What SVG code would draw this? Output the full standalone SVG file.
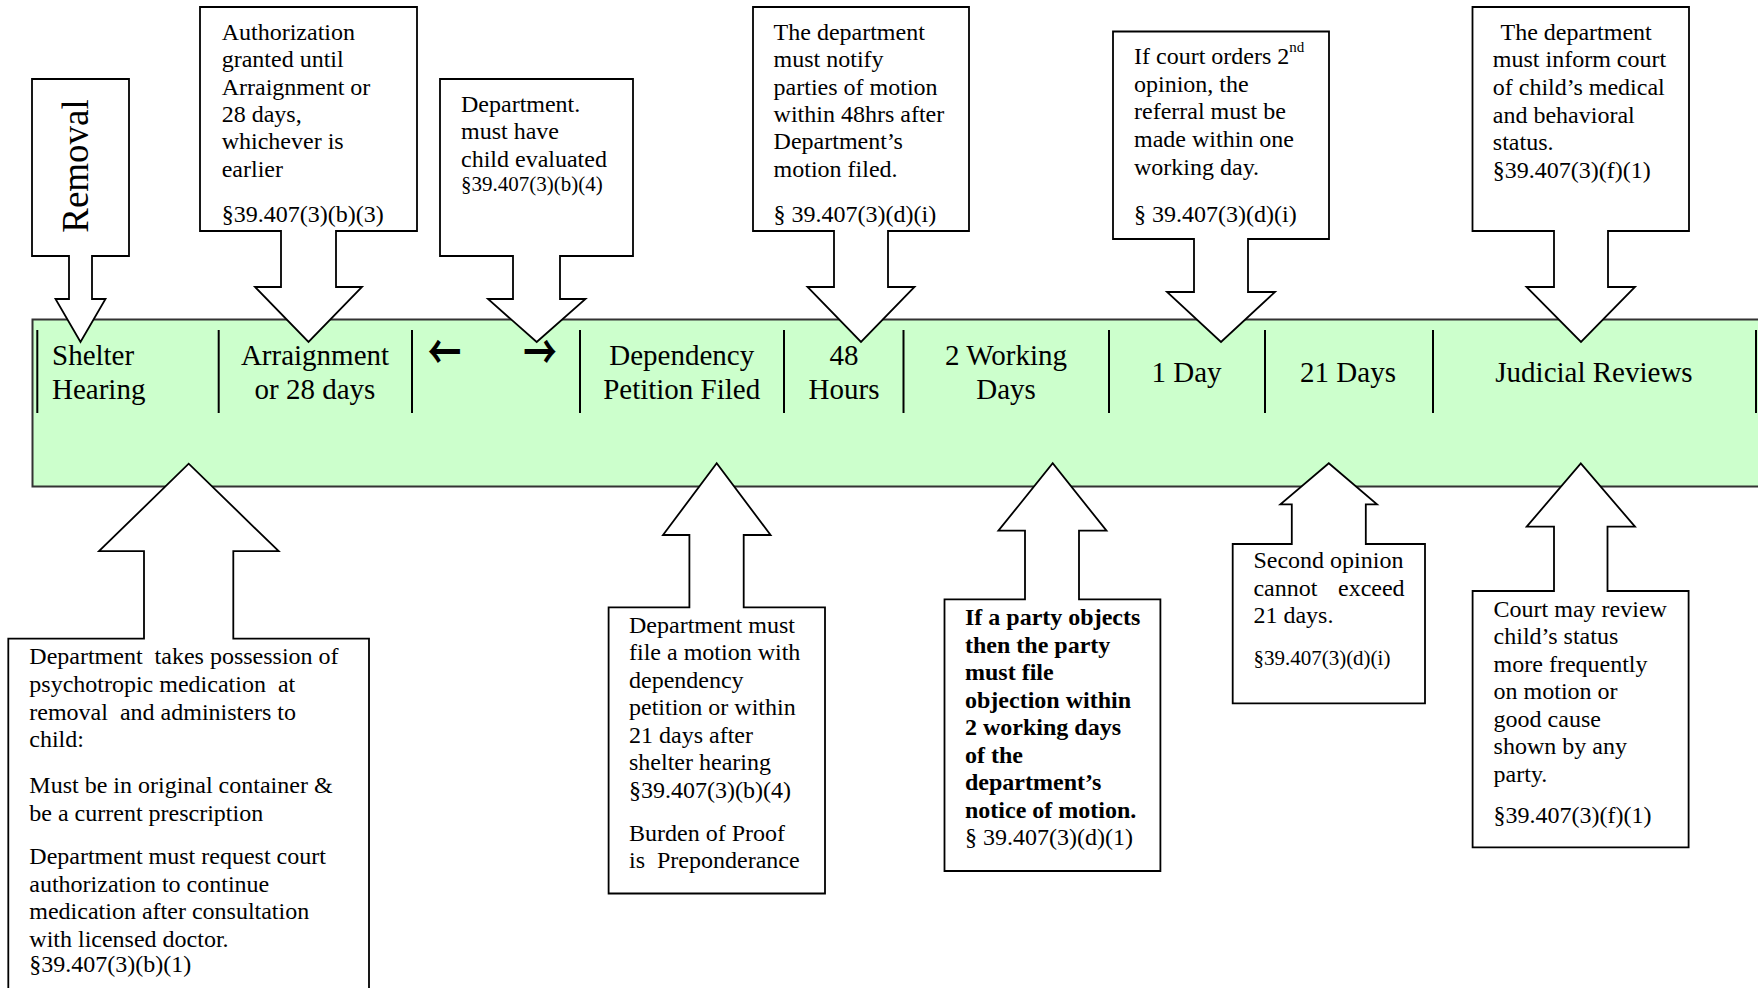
<svg xmlns="http://www.w3.org/2000/svg" width="1758" height="988" viewBox="0 0 1758 988">
<defs>
<style>
text { font-family: "Liberation Serif", "Times New Roman", serif; fill: #000; }
.box { fill: #fff; stroke: #000; stroke-width: 1.8; stroke-linejoin: miter; }
.t { font-size: 24px; }
.s { font-size: 21px; }
.b { font-weight: bold; }
.lbl { font-size: 29px; }
.c { text-anchor: middle; }
.div { stroke: #000; stroke-width: 2; }
.arw { font-family: "Noto Sans CJK JP", "DejaVu Sans", sans-serif; font-size: 32px; font-weight: bold; }
</style>
</defs>
<rect width="1758" height="988" fill="#fff"/>

<g id="timeline">
<rect x="32.5" y="319.5" width="1740" height="167" fill="#CCFFCC" stroke="#333" stroke-width="2"/>
<line class="div" x1="37.3" y1="330" x2="37.3" y2="413"/>
<line class="div" x1="218.7" y1="330" x2="218.7" y2="413"/>
<line class="div" x1="412" y1="330" x2="412" y2="413"/>
<line class="div" x1="580" y1="330" x2="580" y2="413"/>
<line class="div" x1="784" y1="330" x2="784" y2="413"/>
<line class="div" x1="903.5" y1="330" x2="903.5" y2="413"/>
<line class="div" x1="1109" y1="330" x2="1109" y2="413"/>
<line class="div" x1="1265" y1="330" x2="1265" y2="413"/>
<line class="div" x1="1433" y1="330" x2="1433" y2="413"/>
<line class="div" x1="1756" y1="330" x2="1756" y2="413"/>
</g>

<g id="removal">
<path class="box" d="M32,79 H129 V256 H92 V299 H105.5 L80.5,342 L55.5,299 H69 V256 H32 Z"/>
<text transform="translate(88,166) rotate(-90)" font-size="37" text-anchor="middle">Removal</text>
</g>

<g id="authorization">
<path class="box" d="M200,7 H417 V231 H336 V287 H362 L308.5,342 L255,287 H281 V231 H200 Z"/>
<text class="t" x="221.7" y="40">Authorization</text>
<text class="t" x="221.7" y="67.3">granted until</text>
<text class="t" x="221.7" y="94.7">Arraignment or</text>
<text class="t" x="221.7" y="122">28 days,</text>
<text class="t" x="221.7" y="149.3">whichever is</text>
<text class="t" x="221.7" y="176.7">earlier</text>
<text class="t" x="221.7" y="221.7">§39.407(3)(b)(3)</text>
</g>

<g id="evaluated">
<path class="box" d="M440,79 H633 V256 H560 V299 H585.5 L536.7,342 L488,299 H513 V256 H440 Z"/>
<text class="t" x="461" y="111.7">Department.</text>
<text class="t" x="461" y="139.3">must have</text>
<text class="t" x="461" y="166.7">child evaluated</text>
<text class="s" x="461" y="190.5">§39.407(3)(b)(4)</text>
</g>

<g id="notify">
<path class="box" d="M753,7 H969 V231 H888 V287 H914.5 L861,342 L807.5,287 H834 V231 H753 Z"/>
<text class="t" x="773.6" y="40">The department</text>
<text class="t" x="773.6" y="67.3">must notify</text>
<text class="t" x="773.6" y="94.7">parties of motion</text>
<text class="t" x="773.6" y="122">within 48hrs after</text>
<text class="t" x="773.6" y="149.3">Department’s</text>
<text class="t" x="773.6" y="176.7">motion filed.</text>
<text class="t" x="773.6" y="221.7">§ 39.407(3)(d)(i)</text>
</g>

<g id="second-opinion-order">
<path class="box" d="M1113,31.5 H1329 V239 H1248 V292 H1275 L1221,342 L1167,292 H1194 V239 H1113 Z"/>
<text class="t" x="1134" y="64">If court orders 2<tspan font-size="15" dy="-12">nd</tspan></text>
<text class="t" x="1134" y="91.7">opinion, the</text>
<text class="t" x="1134" y="119">referral must be</text>
<text class="t" x="1134" y="146.7">made within one</text>
<text class="t" x="1134" y="175">working day.</text>
<text class="t" x="1134" y="221.7">§ 39.407(3)(d)(i)</text>
</g>

<g id="inform">
<path class="box" d="M1472.5,7 H1689 V231 H1608 V287 H1635 L1581,342 L1526.5,287 H1554 V231 H1472.5 Z"/>
<text class="t" x="1500.5" y="40">The department</text>
<text class="t" x="1492.8" y="67.3">must inform court</text>
<text class="t" x="1492.8" y="95">of child’s medical</text>
<text class="t" x="1492.8" y="122.5">and behavioral</text>
<text class="t" x="1492.8" y="149.5">status.</text>
<text class="t" x="1492.8" y="177.5">§39.407(3)(f)(1)</text>
</g>

<g id="medication">
<path class="box" d="M8.3,1000 V638.7 H144 V551.2 H99 L188.7,463.7 L278.7,551.2 H233.3 V638.7 H369 V1000"/>
<text class="t" x="29.3" y="664.4" xml:space="preserve">Department  takes possession of</text>
<text class="t" x="29.3" y="692" xml:space="preserve">psychotropic medication  at</text>
<text class="t" x="29.3" y="719.5" xml:space="preserve">removal  and administers to</text>
<text class="t" x="29.3" y="747">child:</text>
<text class="t" x="29.3" y="793">Must be in original container &amp;</text>
<text class="t" x="29.3" y="820.5">be a current prescription</text>
<text class="t" x="29.3" y="864">Department must request court</text>
<text class="t" x="29.3" y="891.5">authorization to continue</text>
<text class="t" x="29.3" y="919">medication after consultation</text>
<text class="t" x="29.3" y="946.5">with licensed doctor.</text>
<text class="t" x="29.3" y="972">§39.407(3)(b)(1)</text>
</g>

<g id="file-motion">
<path class="box" d="M608.6,607.3 H689.4 V535 H663 L716.7,463.3 L770.6,535 H743.7 V607.3 H825 V893.5 H608.6 Z"/>
<text class="t" x="629" y="632.7">Department must</text>
<text class="t" x="629" y="660.2">file a motion with</text>
<text class="t" x="629" y="687.7">dependency</text>
<text class="t" x="629" y="715.2">petition or within</text>
<text class="t" x="629" y="742.7">21 days after</text>
<text class="t" x="629" y="770.2">shelter hearing</text>
<text class="t" x="629" y="797.7">§39.407(3)(b)(4)</text>
<text class="t" x="629" y="840.7">Burden of Proof</text>
<text class="t" x="629" y="868.2" xml:space="preserve">is  Preponderance</text>
</g>

<g id="objection">
<path class="box" d="M944.5,599.3 H1025 V530.7 H998.4 L1052.7,463.3 L1106.5,530.7 H1079 V599.3 H1160.4 V871 H944.5 Z"/>
<text class="t b" x="965" y="625">If a party objects</text>
<text class="t b" x="965" y="652.5">then the party</text>
<text class="t b" x="965" y="680">must file</text>
<text class="t b" x="965" y="707.5">objection within</text>
<text class="t b" x="965" y="735">2 working days</text>
<text class="t b" x="965" y="762.5">of the</text>
<text class="t b" x="965" y="790">department’s</text>
<text class="t b" x="965" y="817.5">notice of motion.</text>
<text class="t" x="965" y="845">§ 39.407(3)(d)(1)</text>
</g>

<g id="second-opinion-limit">
<path class="box" d="M1232.7,544 H1291.8 V504.3 H1280.4 L1328.8,463.3 L1377,504.3 H1365.8 V544 H1425 V703.3 H1232.7 Z"/>
<text class="t" x="1253.4" y="568.3">Second opinion</text>
<text class="t" y="596"><tspan x="1253.4">cannot</tspan><tspan x="1404.6" text-anchor="end">exceed</tspan></text>
<text class="t" x="1253.4" y="623.3">21 days.</text>
<text class="s" x="1253.4" y="665">§39.407(3)(d)(i)</text>
</g>

<g id="review">
<path class="box" d="M1472.6,591 H1554 V526.7 H1526.7 L1580.8,463.3 L1635,526.7 H1607.5 V591 H1688.6 V847.3 H1472.6 Z"/>
<text class="t" x="1493.6" y="616.7">Court may review</text>
<text class="t" x="1493.6" y="644.3">child’s status</text>
<text class="t" x="1493.6" y="671.7">more frequently</text>
<text class="t" x="1493.6" y="699.3">on motion or</text>
<text class="t" x="1493.6" y="726.7">good cause</text>
<text class="t" x="1493.6" y="754.3">shown by any</text>
<text class="t" x="1493.6" y="781.7">party.</text>
<text class="t" x="1493.6" y="823.3">§39.407(3)(f)(1)</text>
</g>

<g id="timeline-labels">
<text class="lbl" x="52" y="365">Shelter</text>
<text class="lbl" x="52" y="399">Hearing</text>
<text class="lbl c" x="315" y="365">Arraignment</text>
<text class="lbl c" x="315" y="399">or 28 days</text>
<text class="arw c" transform="translate(444.5,350.5) scale(1.05,1.5)" x="0" y="12">←</text>
<text class="arw c" transform="translate(540,350.5) scale(1.05,1.5)" x="0" y="12">→</text>
<text class="lbl c" x="681.7" y="365">Dependency</text>
<text class="lbl c" x="681.7" y="399">Petition Filed</text>
<text class="lbl c" x="844" y="365">48</text>
<text class="lbl c" x="844" y="399">Hours</text>
<text class="lbl c" x="1006" y="365">2 Working</text>
<text class="lbl c" x="1006" y="399">Days</text>
<text class="lbl c" x="1186.5" y="382">1 Day</text>
<text class="lbl c" x="1348" y="382">21 Days</text>
<text class="lbl c" x="1594" y="382">Judicial Reviews</text>
</g>
</svg>
